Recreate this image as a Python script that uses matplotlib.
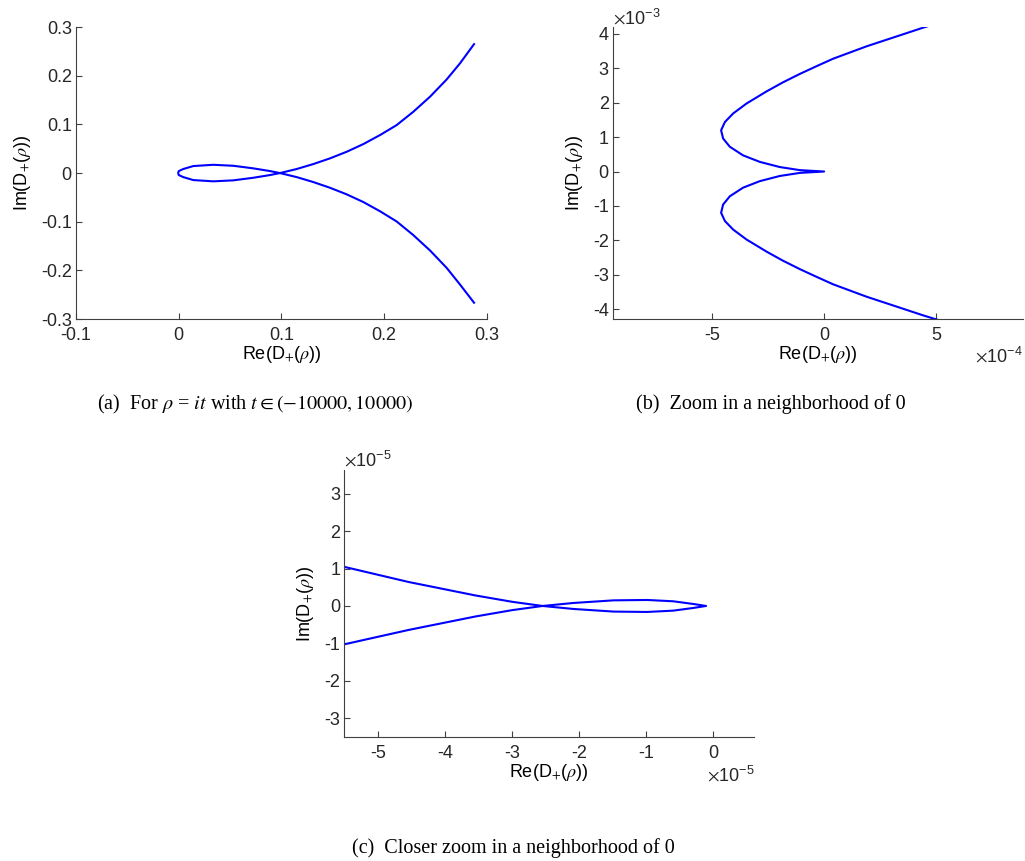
import matplotlib
matplotlib.use("Agg")
import matplotlib.pyplot as plt
from matplotlib.ticker import FuncFormatter

# (a) full curve, rho = it, t in (-10000, 10000)
a_re = [0.2874, 0.2737, 0.2608, 0.2445, 0.2283, 0.2121, 0.1959, 0.1797, 0.1635,
        0.1472, 0.131, 0.1148, 0.0985, 0.0888, 0.0725, 0.0531, 0.0336, 0.0142,
        0.0044, 0.0, -0.0004, -0.0004, 0.0, 0.0044, 0.0142, 0.0336, 0.0531,
        0.0725, 0.0888, 0.0985, 0.1148, 0.131, 0.1472, 0.1635, 0.1797, 0.1959,
        0.2121, 0.2283, 0.2445, 0.2608, 0.2737, 0.2874]
a_im = [0.265, 0.2254, 0.1925, 0.1568, 0.126, 0.0986, 0.0781, 0.0596, 0.0438,
        0.0302, 0.0185, 0.0083, 0.0, -0.0041, -0.0097, -0.015, -0.017, -0.0144,
        -0.0083, -0.004, -0.0015, 0.0015, 0.004, 0.0083, 0.0144, 0.017, 0.015,
        0.0097, 0.0041, 0.0, -0.0083, -0.0185, -0.0302, -0.0438, -0.0596,
        -0.0785, -0.0995, -0.1275, -0.159, -0.195, -0.229, -0.2665]

# (b) zoom near 0
b_re = [5.6e-4, 5.0e-4, 4.45e-4, 3.38e-4, 1.89e-4, 0.40e-4, -0.35e-4, -1.08e-4,
        -1.85e-4, -2.57e-4, -3.46e-4, -4.06e-4, -4.43e-4, -4.60e-4, -4.51e-4,
        -4.21e-4, -3.62e-4, -2.87e-4, -1.98e-4, -1.08e-4, 0.0,
        -1.08e-4, -1.98e-4, -2.87e-4, -3.62e-4, -4.21e-4, -4.51e-4, -4.60e-4,
        -4.43e-4, -4.06e-4, -3.46e-4, -2.57e-4, -1.85e-4, -1.08e-4, -0.35e-4,
        0.40e-4, 1.89e-4, 3.38e-4, 4.45e-4, 5.0e-4, 5.6e-4]
b_im = [4.42e-3, 4.30e-3, 4.19e-3, 3.96e-3, 3.64e-3, 3.28e-3, 3.06e-3, 2.84e-3,
        2.59e-3, 2.33e-3, 1.98e-3, 1.69e-3, 1.44e-3, 1.20e-3, 0.96e-3,
        0.72e-3, 0.47e-3, 0.28e-3, 0.13e-3, 0.04e-3, 0.0,
        -0.04e-3, -0.13e-3, -0.28e-3, -0.47e-3, -0.72e-3, -0.96e-3, -1.20e-3,
        -1.44e-3, -1.69e-3, -1.98e-3, -2.33e-3, -2.59e-3, -2.84e-3, -3.06e-3,
        -3.28e-3, -3.64e-3, -3.96e-3, -4.19e-3, -4.30e-3, -4.42e-3]

# (c) closer zoom
c_re = [-5.5e-5, -4.55e-5, -3.55e-5, -3.0e-5, -2.55e-5, -2.09e-5, -1.49e-5,
        -0.99e-5, -0.60e-5, -0.30e-5, -0.11e-5, -0.30e-5, -0.60e-5, -0.99e-5,
        -1.49e-5, -2.09e-5, -2.55e-5, -3.0e-5, -3.55e-5, -4.55e-5, -5.5e-5]
c_im = [1.04e-5, 0.64e-5, 0.28e-5, 0.11e-5, 0.0, -0.08e-5, -0.15e-5, -0.16e-5,
        -0.125e-5, -0.053e-5, 0.0, 0.053e-5, 0.125e-5, 0.16e-5, 0.15e-5,
        0.08e-5, 0.0, -0.11e-5, -0.28e-5, -0.64e-5, -1.02e-5]

AXIS_COLOR = "#404040"
TEXT_COLOR = "#262626"
LINE_BLUE = "#0000FF"
FS = 13

plt.rcParams.update({
    "font.family": "Liberation Sans",
    "font.size": FS,
    "axes.unicode_minus": False,
    "mathtext.fontset": "stix",
    "xtick.direction": "in",
    "ytick.direction": "in",
    "xtick.color": AXIS_COLOR,
    "ytick.color": AXIS_COLOR,
    "xtick.labelcolor": TEXT_COLOR,
    "ytick.labelcolor": TEXT_COLOR,
    "axes.edgecolor": AXIS_COLOR,
    "axes.linewidth": 0.8,
    "text.color": TEXT_COLOR,
})

XLABEL = r"Re(D$_{+}$($\rho$))"
YLABEL = r"Im(D$_{+}$($\rho$))"


def style_axis(ax):
    ax.spines["top"].set_visible(False)
    ax.spines["right"].set_visible(False)
    ax.tick_params(length=4, width=0.8)
    ax.tick_params(axis="x", pad=6)
    ax.tick_params(axis="y", pad=3)
    ax.set_xlabel(XLABEL, labelpad=0)
    ax.set_ylabel(YLABEL, labelpad=6)


def scaled(scale):
    return FuncFormatter(lambda v, pos: "%g" % round(v / scale, 6))


fig = plt.figure(figsize=(10.25, 8.61), dpi=100)

ax_a = fig.add_axes([0.0741, 0.6295, 0.401, 0.339])
ax_a.plot(a_re, a_im, color=LINE_BLUE, lw=1.5, solid_joinstyle="round")
ax_a.set_xlim(-0.1, 0.3)
ax_a.set_ylim(-0.3, 0.3)
ax_a.set_xticks([-0.1, 0, 0.1, 0.2, 0.3])
ax_a.set_yticks([-0.3, -0.2, -0.1, 0, 0.1, 0.2, 0.3])
ax_a.xaxis.set_major_formatter(scaled(1))
ax_a.yaxis.set_major_formatter(scaled(1))
style_axis(ax_a)

ax_b = fig.add_axes([0.598, 0.6295, 0.400, 0.339])
ax_b.plot(b_re, b_im, color=LINE_BLUE, lw=1.5, solid_joinstyle="round")
ax_b.set_xlim(-9.43e-4, 8.88e-4)
ax_b.set_ylim(-4.29e-3, 4.2e-3)
ax_b.set_xticks([-5e-4, 0, 5e-4])
ax_b.set_yticks([i * 1e-3 for i in range(-4, 5)])
ax_b.xaxis.set_major_formatter(scaled(1e-4))
ax_b.yaxis.set_major_formatter(scaled(1e-3))
style_axis(ax_b)
ax_b.text(0.0, 1.0, r"$\times\mathregular{10^{-3}}$", transform=ax_b.transAxes,
          ha="left", va="bottom", fontsize=FS)
ax_b.text(1.0, -0.09, r"$\times\mathregular{10^{-4}}$", transform=ax_b.transAxes,
          ha="right", va="top", fontsize=FS)

ax_c = fig.add_axes([0.3359, 0.1444, 0.400, 0.3097])
ax_c.plot(c_re, c_im, color=LINE_BLUE, lw=1.5, solid_joinstyle="round")
ax_c.set_xlim(-5.51e-5, 0.61e-5)
ax_c.set_ylim(-3.49e-5, 3.63e-5)
ax_c.set_xticks([i * 1e-5 for i in range(-5, 1)])
ax_c.set_yticks([i * 1e-5 for i in range(-3, 4)])
ax_c.xaxis.set_major_formatter(scaled(1e-5))
ax_c.yaxis.set_major_formatter(scaled(1e-5))
style_axis(ax_c)
ax_c.text(0.0, 1.0, r"$\times\mathregular{10^{-5}}$", transform=ax_c.transAxes,
          ha="left", va="bottom", fontsize=FS)
ax_c.text(1.0, -0.105, r"$\times\mathregular{10^{-5}}$", transform=ax_c.transAxes,
          ha="right", va="top", fontsize=FS)

cap_kw = dict(ha="center", va="center", fontsize=14.5, family="Liberation Serif",
              color="black")
fig.text(255 / 1025, 1 - 404 / 861,
         r"(a)  For $\rho$ = $it$ with $t \in (-10000, 10000)$", **cap_kw)
fig.text(771 / 1025, 1 - 404 / 861, "(b)  Zoom in a neighborhood of 0", **cap_kw)
fig.text(513 / 1025, 1 - 848 / 861, "(c)  Closer zoom in a neighborhood of 0", **cap_kw)

fig.savefig("out.png", dpi=100)
